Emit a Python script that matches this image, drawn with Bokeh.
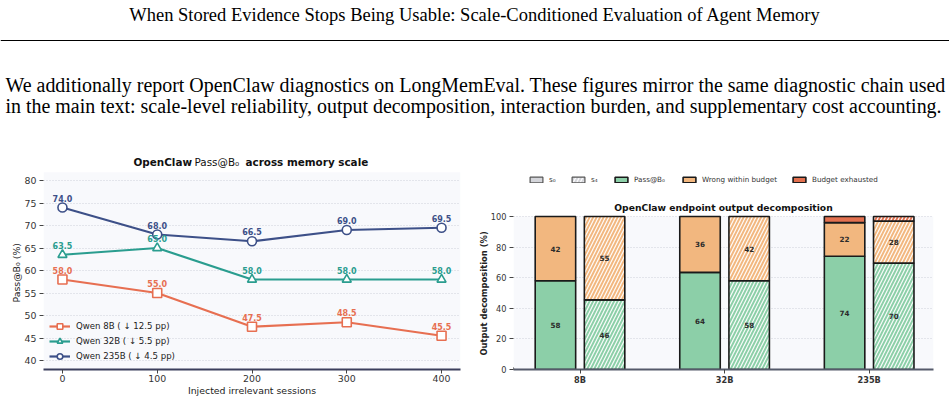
import numpy as np
from bokeh.plotting import figure
from bokeh.layouts import column, row
from bokeh.models import (ColumnDataSource, LabelSet, Label, Legend, LegendItem,
                          FixedTicker, Range1d, Title)
from bokeh.core.properties import value
from bokeh.embed import file_html
from bokeh.resources import INLINE

# ---------------- page text ----------------
HEADER = "When Stored Evidence Stops Being Usable: Scale-Conditioned Evaluation of Agent Memory"
PARA = [
    "We additionally report OpenClaw diagnostics on LongMemEval. These figures mirror the same diagnostic chain used",
    "in the main text: scale-level reliability, output decomposition, interaction burden, and supplementary cost accounting.",
]

# ---------------- left chart data ----------------
sessions = [0, 100, 200, 300, 400]
qwen8b = [58.0, 55.0, 47.5, 48.5, 45.5]
qwen32b = [63.5, 65.0, 58.0, 58.0, 58.0]
qwen235b = [74.0, 68.0, 66.5, 69.0, 69.5]
series_models = ["Qwen 8B", "Qwen 32B", "Qwen 235B"]
y_ticks_left = [40, 45, 50, 55, 60, 65, 70, 75, 80]

# ---------------- right chart data ----------------
models = ["8B", "32B", "235B"]
pass_s0 = [58.0, 63.5, 74.0]
wrong_s0 = [42.0, 36.5, 22.0]
exh_s0 = [0.0, 0.0, 4.0]
pass_s4 = [45.5, 58.0, 69.5]
wrong_s4 = [54.5, 42.0, 27.5]
exh_s4 = [0.0, 0.0, 3.0]
pass_s0_lab = ["58", "64", "74"]
wrong_s0_lab = ["42", "36", "22"]
pass_s4_lab = ["46", "58", "70"]
wrong_s4_lab = ["55", "42", "28"]
y_ticks_right = [0, 20, 40, 60, 80, 100]
legend_labels_right = ["s\u2080", "s\u2084", "Pass@B\u2080", "Wrong within budget", "Budget exhausted"]

FONT = "DejaVu Sans"
SERIF = "Liberation Serif"
PLOT_BG = "#f8f9fc"

# ================= top (page text) =================
top = figure(width=949, height=150, x_range=Range1d(0, 949), y_range=Range1d(150, 0),
             output_backend="svg", toolbar_location=None, min_border=0,
             x_axis_location=None, y_axis_location=None, outline_line_color=None)
top.grid.visible = False
top.text(x=[474.5], y=[14], text=[HEADER], text_align="center", text_baseline="middle",
         text_font=value(SERIF), text_font_size="18.5px", text_color="#000")
top.segment(x0=[0], y0=[40], x1=[949], y1=[40], line_color="#000", line_width=1.2)
top.text(x=[5, 5], y=[84, 105], text=PARA, text_align="left", text_baseline="middle",
         text_font=value(SERIF), text_font_size="19.95px", text_color="#000")

# ================= left chart =================
y1_plot_top = 81.84
xr1 = Range1d(-20, 420)
yr1 = Range1d(38, 86.67)
p1 = figure(width=475, height=252, x_range=xr1, y_range=yr1,
            output_backend="svg", toolbar_location=None,
            min_border_left=43, min_border_right=15, min_border_top=0, min_border_bottom=33,
            background_fill_color="white", border_fill_color="white", outline_line_color=None)
p1.quad(left=[xr1.start], right=[xr1.end], bottom=[yr1.start], top=[y1_plot_top],
        fill_color=PLOT_BG, line_color=None, level="image")

colors = ["#e76f51", "#2a9d8f", "#3d5088"]
markers = ["square", "triangle", "circle"]
items = []
for ys, c, m, name in zip([qwen8b, qwen32b, qwen235b], colors, markers, series_models):
    src = ColumnDataSource(dict(x=sessions, y=ys, lab=[f"{v:.1f}" for v in ys]))
    lr = p1.line("x", "y", source=src, line_color=c, line_width=2.2)
    sr = p1.scatter("x", "y", source=src, marker=m, size=9, fill_color="white",
                    line_color=c, line_width=1.6)
    p1.add_layout(LabelSet(x="x", y="y", text="lab", source=src, y_offset=6,
                           text_align="center", text_baseline="alphabetic",
                           text_font=value(FONT), text_font_style="bold",
                           text_font_size="8px", text_color=c))
    drop = ys[0] - ys[-1]
    items.append(LegendItem(label=f"{name} ( \u2193 {drop:.1f} pp)", renderers=[lr, sr]))

leg1 = Legend(items=items, location="bottom_left", background_fill_alpha=0,
              border_line_color=None, label_text_font=FONT, label_text_font_size="8.6px",
              label_text_color="#222", glyph_width=21, glyph_height=14, label_height=14,
              spacing=1, padding=4, margin=6, label_standoff=6)
p1.add_layout(leg1)

# title made of three pieces (bold / normal / bold)
xmid1 = (xr1.start + xr1.end) / 2
for txt, off, sty in [("OpenClaw", -118.5, "bold"), ("Pass@B\u2080", -57.5, "normal"),
                      ("across memory scale", -6.5, "bold")]:
    p1.add_layout(Label(x=xmid1, y=y1_plot_top, x_offset=off, y_offset=10, text=txt,
                        text_align="left", text_baseline="alphabetic", text_font=FONT,
                        text_font_style=sty, text_font_size="10.4px", text_color="#111"))

p1.xaxis.ticker = FixedTicker(ticks=sessions)
p1.yaxis.ticker = FixedTicker(ticks=y_ticks_left)
p1.xaxis.axis_label = "Injected irrelevant sessions"
for ax in (p1.xaxis[0], p1.yaxis[0]):
    ax.major_label_text_font = FONT
    ax.major_label_text_font_size = "9.4px"
    ax.major_label_text_color = "#333"
    ax.axis_label_text_font = FONT
    ax.axis_label_text_font_size = "9.4px"
    ax.axis_label_text_font_style = "normal"
    ax.axis_label_text_color = "#222"
    ax.minor_tick_line_color = None
    ax.major_tick_in = 0
    ax.major_tick_out = 4
    ax.major_tick_line_color = "#444"
    ax.major_label_standoff = 3
p1.xaxis.major_label_standoff = 1
p1.yaxis.axis_line_color = None
p1.xaxis.axis_line_color = "#3b3f5c"
p1.xaxis.axis_line_width = 2
p1.xaxis.axis_label_standoff = 0
p1.xgrid.visible = False
p1.ygrid.grid_line_color = "#c9ccd6"
p1.ygrid.grid_line_dash = "1 2"
p1.ygrid.grid_line_width = 0.9
p1.add_layout(Title(text="Pass@B\u2080 (%)", align="left", offset=67, standoff=0,
                    text_font=FONT, text_font_size="9.4px", text_font_style="normal",
                    text_color="#222"), "left")

# ================= right chart =================
y2_plot_top = 100
xr2 = Range1d(-0.46, 2.445)
yr2 = Range1d(0, 143.14)
p2 = figure(width=474, height=252, x_range=xr2, y_range=yr2,
            output_backend="svg", toolbar_location=None,
            min_border_left=38, min_border_right=16, min_border_top=0, min_border_bottom=33,
            background_fill_color="white", border_fill_color="white", outline_line_color=None)
p2.quad(left=[xr2.start], right=[xr2.end], bottom=[yr2.start], top=[y2_plot_top],
        fill_color=PLOT_BG, line_color=None, level="image")
p2.add_layout(Label(x=(xr2.start + xr2.end) / 2, y=y2_plot_top, y_offset=9,
                    text="OpenClaw endpoint output decomposition", text_align="center",
                    text_baseline="alphabetic", text_font=FONT, text_font_style="bold",
                    text_font_size="9.2px", text_color="#111"))

GREEN, ORANGE, RED = "#8ccfa8", "#f2b77f", "#e3704f"
idx = np.arange(len(models))
bw, off = 0.28, 0.17
hatch = dict(hatch_pattern="/", hatch_color="white", hatch_weight=1.2, hatch_scale=7, hatch_alpha=0.95)

legend_renderers = {}
for xs, pv, wv, ev, plab, wlab, hatched in [
        (idx - off, pass_s0, wrong_s0, exh_s0, pass_s0_lab, wrong_s0_lab, False),
        (idx + off, pass_s4, wrong_s4, exh_s4, pass_s4_lab, wrong_s4_lab, True)]:
    pv, wv, ev = np.array(pv), np.array(wv), np.array(ev)
    extra = hatch if hatched else {}
    rp = p2.vbar(x=xs, bottom=0, top=pv, width=bw, fill_color=GREEN,
                 line_color="#1a1a1a", line_width=1.6, **extra)
    rw = p2.vbar(x=xs, bottom=pv, top=pv + wv, width=bw, fill_color=ORANGE,
                 line_color="#1a1a1a", line_width=1.6, **extra)
    mask = ev > 0
    re = p2.vbar(x=xs[mask], bottom=(pv + wv)[mask], top=(pv + wv + ev)[mask], width=bw,
                 fill_color=RED, line_color="#1a1a1a", line_width=1.6, **extra)
    if not hatched:
        legend_renderers.update(p=rp, w=rw, e=re)
    lsrc = ColumnDataSource(dict(x=list(xs) * 2,
                                 y=list(pv / 2) + list(pv + wv / 2),
                                 t=list(plab) + list(wlab)))
    p2.add_layout(LabelSet(x="x", y="y", text="t", source=lsrc, text_align="center",
                           text_baseline="middle", text_font=value(FONT),
                           text_font_style="bold", text_font_size="7.2px", text_color="#2b2b2b"))

# legend-only swatches for the two memory scales (drawn outside the visible x range)
off_x = [xr2.start - 1.0]
r_s0 = p2.vbar(x=off_x, top=[1], width=0.1, fill_color="#d4d5da", line_color="#555", line_width=1.2)
r_s4 = p2.vbar(x=off_x, top=[1], width=0.1, fill_color="#d4d5da", line_color="#555", line_width=1.2, **hatch)
leg_renderers = [r_s0, r_s4, legend_renderers["p"], legend_renderers["w"], legend_renderers["e"]]
leg_x = [15, 57, 100, 168, 278]   # screen offsets of each legend entry from the frame's left edge
for lab, rr, lx in zip(legend_labels_right, leg_renderers, leg_x):
    p2.add_layout(Legend(items=[LegendItem(label=lab, renderers=[rr])],
                         orientation="horizontal", location=(lx, 185), glyph_width=16,
                         glyph_height=7, label_height=8, label_text_font=FONT,
                         label_text_font_size="7.2px", label_text_color="#333",
                         label_standoff=5, padding=2, margin=0,
                         border_line_color=None, background_fill_alpha=0))

p2.xaxis.ticker = FixedTicker(ticks=list(idx))
p2.xaxis.major_label_overrides = {int(i): m for i, m in zip(idx, models)}
p2.yaxis.ticker = FixedTicker(ticks=y_ticks_right)
for ax in (p2.xaxis[0], p2.yaxis[0]):
    ax.major_label_text_font = FONT
    ax.major_label_text_font_size = "8.2px"
    ax.major_label_text_color = "#333"
    ax.minor_tick_line_color = None
    ax.major_tick_in = 0
    ax.major_tick_out = 4
    ax.major_tick_line_color = "#444"
    ax.major_label_standoff = 3
p2.xaxis.major_label_standoff = 1
p2.xaxis.major_label_text_font_style = "bold"
p2.yaxis.axis_line_color = None
p2.xaxis.axis_line_color = "#555a6a"
p2.xaxis.axis_line_width = 2
p2.xgrid.visible = False
p2.ygrid.grid_line_color = "#c9ccd6"
p2.ygrid.grid_line_dash = "1 2"
p2.ygrid.grid_line_width = 0.9
p2.add_layout(Title(text="Output decomposition (%)", align="left", offset=14, standoff=-3,
                    text_font=FONT, text_font_size="8.4px", text_font_style="bold",
                    text_color="#222"), "left")

layout = column(top, row(p1, p2, spacing=0), spacing=0)
open("out.html", "w").write(file_html(layout, INLINE))
